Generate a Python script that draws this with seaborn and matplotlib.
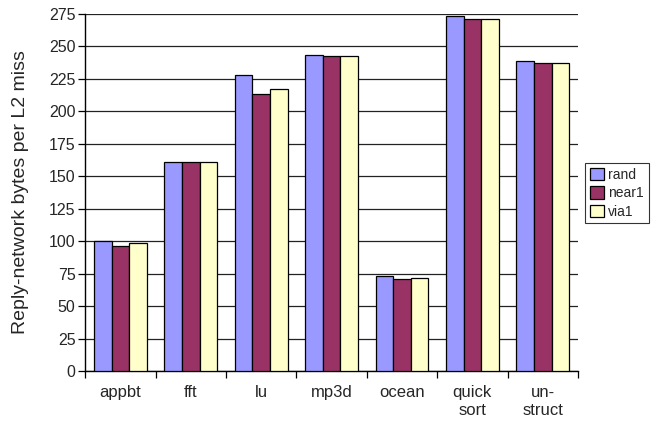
import matplotlib
matplotlib.use("Agg")
import matplotlib.pyplot as plt
import seaborn as sns
import pandas as pd
from matplotlib.ticker import MultipleLocator, FixedLocator

categories = ["appbt", "fft", "lu", "mp3d", "ocean", "quick\nsort", "un-\nstruct"]
rand = [100, 161, 228, 243.5, 73, 273.5, 239]
near1 = [96, 161, 213, 242.5, 71, 271.5, 237.5]
via1 = [98.5, 161, 217.5, 242.5, 71.5, 271, 237.5]
series_names = ["rand", "near1", "via1"]
colors = ["#9999FF", "#993366", "#FFFFCC"]

df = pd.DataFrame({
    "bench": categories * 3,
    "value": rand + near1 + via1,
    "series": [s for s in series_names for _ in categories],
})

sns.set_theme(style="white")
plt.rcParams["font.family"] = ["Liberation Sans", "DejaVu Sans"]

fig = plt.figure(figsize=(6.56, 4.24), dpi=100)
ax = fig.add_axes([0.13, 0.125, 0.751, 0.842])

sns.barplot(data=df, x="bench", y="value", hue="series", palette=colors,
            width=0.75, edgecolor="black", linewidth=0.9, saturation=1,
            ax=ax, zorder=3)

ax.set_ylim(0, 275)
ax.set_xlim(-0.5, len(categories) - 0.5)
ax.yaxis.set_major_locator(MultipleLocator(25))
ax.grid(axis="y", color="#222222", linewidth=0.9, zorder=0)
ax.set_axisbelow(True)

# category labels centred, tick marks on the boundaries between groups
ax.set_xticks(range(len(categories)))
ax.set_xticklabels(categories, fontsize=12, linespacing=1.3, va="top")
ax.xaxis.set_minor_locator(FixedLocator([i - 0.5 for i in range(len(categories) + 1)]))
ax.tick_params(axis="x", which="major", length=0, pad=10)
ax.tick_params(axis="x", which="minor", length=5, width=0.9, color="black", direction="out", bottom=True)
ax.tick_params(axis="y", length=5, width=0.9, color="black", direction="out", left=True, labelsize=11.5, pad=2)

for side in ["top", "right"]:
    ax.spines[side].set_visible(False)
for side in ["left", "bottom"]:
    ax.spines[side].set_color("black")
    ax.spines[side].set_linewidth(1.0)

ax.set_xlabel("")
ax.set_ylabel("Reply-network bytes per L2 miss", fontsize=14, labelpad=14)

leg = ax.legend(loc="upper left", bbox_to_anchor=(1.014, 0.583), frameon=True,
                fontsize=10, handlelength=1.0, handleheight=1.0, handletextpad=0.35,
                borderpad=0.35, labelspacing=0.32, fancybox=False, borderaxespad=0)
leg.get_frame().set_edgecolor("black")
leg.get_frame().set_linewidth(0.8)

fig.savefig("out.png", dpi=100)
